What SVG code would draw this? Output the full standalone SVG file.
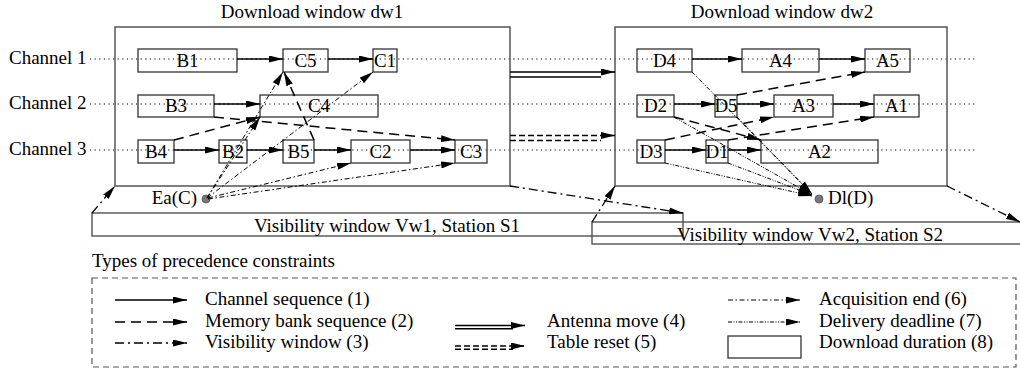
<svg xmlns="http://www.w3.org/2000/svg" width="1020" height="374" viewBox="0 0 1020 374" font-family="'Liberation Serif', 'Times New Roman', Times, 'DejaVu Serif', serif">
<style>
text{font-family:'Liberation Serif','Times New Roman',Times,'DejaVu Serif',serif;font-size:19px;fill:#000}
.m{text-anchor:middle}
.e{text-anchor:end}
.box{fill:none;stroke:#333;stroke-width:1.3}
.win{fill:none;stroke:#555;stroke-width:1.5}
.vis{fill:none;stroke:#444;stroke-width:1.3}
.ch{fill:none;stroke:#000;stroke-width:1;stroke-dasharray:1.2 3.4}
.c1{fill:none;stroke:#000;stroke-width:1.6;marker-end:url(#ah)}
.c2{fill:none;stroke:#000;stroke-width:1.5;stroke-dasharray:10 6;marker-end:url(#ah)}
.c3{fill:none;stroke:#000;stroke-width:1.3;stroke-dasharray:9 4 2 4;marker-end:url(#ah)}
.c4{fill:none;stroke:#000;stroke-width:1.4}
.c5{fill:none;stroke:#000;stroke-width:1.4;stroke-dasharray:6 3}
.c6{fill:none;stroke:#000;stroke-width:1;stroke-dasharray:5 2.5 1.5 2.5;marker-end:url(#ah)}
.c7{fill:none;stroke:#000;stroke-width:1;stroke-dasharray:4 1.5 1 1.5 1 1.5;marker-end:url(#ah)}
.ah{marker-end:url(#ah)}
.leg{fill:none;stroke:#555;stroke-width:1.2;stroke-dasharray:6 4}
.dot{fill:#777;stroke:#555;stroke-width:0.8}
</style>
<defs>
<marker id="ah" markerWidth="14" markerHeight="7" refX="14" refY="3.5" orient="auto" markerUnits="userSpaceOnUse"><path d="M0,0L14,3.5L0,7z" fill="#000"/></marker>
</defs>

<g id="channels">
<text x="9" y="64">Channel 1</text>
<text x="9" y="109">Channel 2</text>
<text x="9" y="155">Channel 3</text>
<line class="ch" x1="90" y1="59" x2="975" y2="59"/>
<line class="ch" x1="90" y1="104" x2="975" y2="104"/>
<line class="ch" x1="90" y1="150" x2="975" y2="150"/>
</g>

<g id="dw1"><rect class="win" x="115" y="27" width="395" height="159"/><text class="m" x="312" y="18">Download window dw1</text></g>
<g id="dw2"><rect class="win" x="615" y="27" width="332" height="159"/><text class="m" x="782" y="18">Download window dw2</text></g>
<g id="vw1"><rect class="vis" x="92" y="213" width="591" height="23"/><text class="m" x="387" y="232">Visibility window Vw1, Station S1</text></g>
<g id="vw2"><rect class="vis" x="592" y="222" width="440" height="22"/><text class="m" x="810" y="241">Visibility window Vw2, Station S2</text></g>

<g id="B1"><rect class="box" x="138" y="49" width="99" height="23"/><text class="m" x="187.5" y="67">B1</text></g>
<g id="C5"><rect class="box" x="283" y="49" width="45" height="23"/><text class="m" x="305.5" y="67">C5</text></g>
<g id="C1"><rect class="box" x="373" y="49" width="24" height="23"/><text class="m" x="385" y="67">C1</text></g>
<g id="B3"><rect class="box" x="138" y="95" width="76" height="22"/><text class="m" x="176" y="112">B3</text></g>
<g id="C4"><rect class="box" x="260" y="95" width="118" height="22"/><text class="m" x="319" y="112">C4</text></g>
<g id="B4"><rect class="box" x="138" y="140" width="36" height="23"/><text class="m" x="156" y="158">B4</text></g>
<g id="B2"><rect class="box" x="219" y="140" width="28" height="23"/><text class="m" x="233" y="158">B2</text></g>
<g id="B5"><rect class="box" x="283" y="140" width="31" height="23"/><text class="m" x="298.5" y="158">B5</text></g>
<g id="C2"><rect class="box" x="351" y="140" width="59" height="23"/><text class="m" x="380.5" y="158">C2</text></g>
<g id="C3"><rect class="box" x="455" y="140" width="32" height="23"/><text class="m" x="471" y="158">C3</text></g>

<g id="D4"><rect class="box" x="637" y="49" width="55" height="23"/><text class="m" x="664.5" y="67">D4</text></g>
<g id="A4"><rect class="box" x="742" y="49" width="77" height="23"/><text class="m" x="780.5" y="67">A4</text></g>
<g id="A5"><rect class="box" x="865" y="49" width="45" height="23"/><text class="m" x="887.5" y="67">A5</text></g>
<g id="D2"><rect class="box" x="637" y="95" width="37" height="22"/><text class="m" x="655.5" y="112">D2</text></g>
<g id="D5"><rect class="box" x="715" y="95" width="22" height="22"/><text class="m" x="726" y="112">D5</text></g>
<g id="A3"><rect class="box" x="774" y="95" width="59" height="22"/><text class="m" x="803.5" y="112">A3</text></g>
<g id="A1"><rect class="box" x="874" y="95" width="45" height="22"/><text class="m" x="896.5" y="112">A1</text></g>
<g id="D3"><rect class="box" x="637" y="140" width="28" height="23"/><text class="m" x="651" y="158">D3</text></g>
<g id="D1"><rect class="box" x="706" y="140" width="22" height="23"/><text class="m" x="717" y="158">D1</text></g>
<g id="A2"><rect class="box" x="761" y="140" width="117" height="23"/><text class="m" x="819.5" y="158">A2</text></g>

<g id="EaC"><circle class="dot" cx="206" cy="199" r="4"/><text class="e" x="197" y="204">Ea(C)</text></g>
<g id="DlD"><circle class="dot" cx="819" cy="199" r="4"/><text x="828" y="204">Dl(D)</text></g>

<g id="connectors">
<line class="c1" x1="237" y1="59" x2="283" y2="59"/>
<line class="c1" x1="328" y1="59" x2="373" y2="59"/>
<line class="c1" x1="214" y1="104" x2="260" y2="104"/>
<line class="c1" x1="174" y1="150" x2="219" y2="150"/>
<line class="c1" x1="247" y1="150" x2="283" y2="150"/>
<line class="c1" x1="314" y1="150" x2="351" y2="150"/>
<line class="c1" x1="410" y1="150" x2="455" y2="150"/>
<line class="c1" x1="692" y1="59" x2="742" y2="59"/>
<line class="c1" x1="819" y1="59" x2="865" y2="59"/>
<line class="c1" x1="674" y1="104" x2="715" y2="104"/>
<line class="c1" x1="737" y1="104" x2="774" y2="104"/>
<line class="c1" x1="833" y1="104" x2="874" y2="104"/>
<line class="c1" x1="665" y1="150" x2="706" y2="150"/>
<line class="c1" x1="728" y1="150" x2="761" y2="150"/>

<line class="c2" x1="174" y1="140" x2="260" y2="117"/>
<line class="c2" x1="214" y1="117" x2="455" y2="140"/>
<line class="c2" x1="314" y1="140" x2="284" y2="72"/>
<line class="c2" x1="665" y1="140" x2="774" y2="117"/>
<line class="c2" x1="737" y1="95" x2="865" y2="72"/>
<line class="c2" x1="728" y1="140" x2="874" y2="117"/>
<line class="c2" x1="674" y1="117" x2="761" y2="140"/>

<line class="c3" x1="92" y1="213" x2="115" y2="186"/>
<line class="c3" x1="510" y1="186" x2="683" y2="213"/>
<line class="c3" x1="592" y1="222" x2="615" y2="186"/>
<line class="c3" x1="947" y1="186" x2="1020" y2="222"/>

<line class="c4 ah" x1="510" y1="72" x2="615" y2="72"/>
<line class="c4" x1="510" y1="77" x2="601" y2="77"/>
<line class="c5 ah" x1="510" y1="135.5" x2="615" y2="135.5"/>
<line class="c5" x1="510" y1="140.5" x2="601" y2="140.5"/>

<line class="c6" x1="207" y1="198" x2="283" y2="72"/>
<line class="c6" x1="207" y1="198" x2="260" y2="117"/>
<line class="c6" x1="207" y1="198" x2="373" y2="72"/>
<line class="c6" x1="208" y1="198" x2="351" y2="163"/>
<line class="c6" x1="208" y1="199" x2="455" y2="163"/>

<line class="c7" x1="692" y1="72" x2="812" y2="194"/>
<line class="c7" x1="737" y1="117" x2="812" y2="194"/>
<line class="c7" x1="674" y1="117" x2="812" y2="195"/>
<line class="c7" x1="728" y1="163" x2="812" y2="195"/>
<line class="c7" x1="665" y1="163" x2="812" y2="196"/>
</g>

<g id="legend">
<text x="92" y="267">Types of precedence constraints</text>
<rect class="leg" x="92" y="278" width="924" height="89"/>
<line class="c1" x1="115" y1="300" x2="187" y2="300"/>
<text x="205" y="305">Channel sequence (1)</text>
<line class="c2" x1="115" y1="322" x2="187" y2="322" stroke-dasharray="8 6"/>
<text x="205" y="327">Memory bank sequence (2)</text>
<line class="c3" x1="115" y1="343" x2="187" y2="343"/>
<text x="205" y="348">Visibility window (3)</text>
<line class="c4 ah" x1="455" y1="325.5" x2="525" y2="325.5"/>
<line class="c4" x1="455" y1="328.8" x2="513" y2="328.8"/>
<text x="547" y="327">Antenna move (4)</text>
<line class="c5 ah" x1="455" y1="346" x2="525" y2="346"/>
<line class="c5" x1="455" y1="349.3" x2="513" y2="349.3"/>
<text x="547" y="348">Table reset (5)</text>
<line class="c6" x1="728" y1="300" x2="800" y2="300"/>
<text x="819" y="305">Acquisition end (6)</text>
<line class="c7" x1="728" y1="322" x2="800" y2="322"/>
<text x="819" y="327">Delivery deadline (7)</text>
<rect class="box" x="728" y="336" width="73" height="22"/>
<text x="819" y="348">Download duration (8)</text>
</g>
</svg>
